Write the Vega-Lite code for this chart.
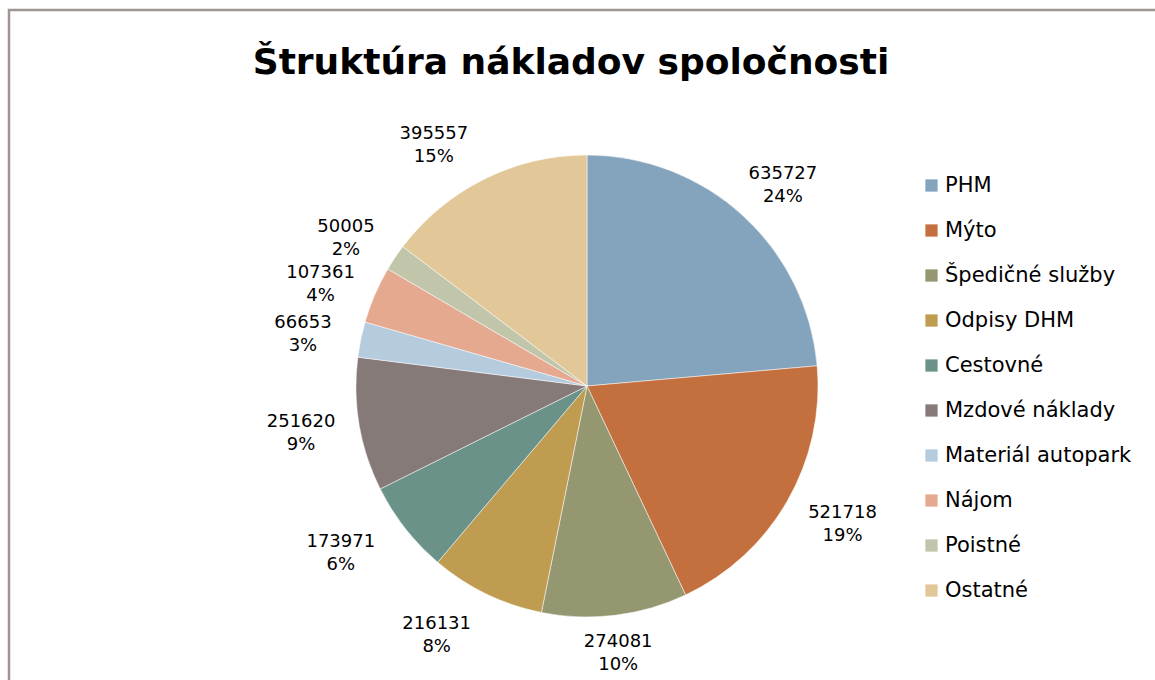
{
  "$schema": "https://vega.github.io/schema/vega-lite/v6.json",
  "autosize": {"type": "none"},
  "padding": {"left": 9, "top": 10, "right": 0, "bottom": 0},
  "width": 1156,
  "height": 752,
  "background": "white",
  "view": {"stroke": "#9e9491", "strokeWidth": 2.5, "fill": "white"},
  "config": {
    "view": {"stroke": "#9e9491", "strokeWidth": 2.5},
    "font": "DejaVu Sans",
    "text": {"fontSize": 18, "font": "DejaVu Sans", "color": "#000000", "align": "center", "baseline": "middle", "lineBreak": "\n", "lineHeight": 23}
  },
  "title": {
    "text": "Štruktúra nákladov spoločnosti",
    "font": "DejaVu Sans",
    "fontSize": 36,
    "fontWeight": "bold",
    "color": "#000000",
    "anchor": "middle",
    "offset": 0,
    "baseline": "alphabetic",
    "dx": -16,
    "dy": 100
  },
  "data": {
    "values": [
      {"kategoria": "PHM", "value": 635727, "pct": "24%"},
      {"kategoria": "Mýto", "value": 521718, "pct": "19%"},
      {"kategoria": "Špedičné služby", "value": 274081, "pct": "10%"},
      {"kategoria": "Odpisy DHM", "value": 216131, "pct": "8%"},
      {"kategoria": "Cestovné", "value": 173971, "pct": "6%"},
      {"kategoria": "Mzdové náklady", "value": 251620, "pct": "9%"},
      {"kategoria": "Materiál autopark", "value": 66653, "pct": "3%"},
      {"kategoria": "Nájom", "value": 107361, "pct": "4%"},
      {"kategoria": "Poistné", "value": 50005, "pct": "2%"},
      {"kategoria": "Ostatné", "value": 395557, "pct": "15%"}
    ]
  },
  "transform": [
    {"window": [{"op": "row_number", "as": "poradie"}]},
    {"calculate": "datum.value + '\\n' + datum.pct", "as": "stitok"},
    {"stack": "value", "groupby": [], "sort": [{"field": "poradie", "order": "ascending"}], "as": ["t0", "t1"]},
    {"calculate": "(datum.t0 + datum.t1) / 2", "as": "tmid"}
  ],
  "layer": [
    {
      "mark": {"type": "arc", "outerRadius": 231, "stroke": "white", "strokeWidth": 0.5},
      "encoding": {
        "theta": {"field": "t0", "type": "quantitative", "scale": {"domain": [0, 2692824]}},
        "theta2": {"field": "t1"},
        "color": {
          "field": "kategoria",
          "type": "nominal",
          "sort": null,
          "scale": {
            "domain": ["PHM", "Mýto", "Špedičné služby", "Odpisy DHM", "Cestovné", "Mzdové náklady", "Materiál autopark", "Nájom", "Poistné", "Ostatné"],
            "range": ["#84a4be", "#c4703e", "#94976f", "#bf9c50", "#6a9288", "#857a78", "#b5cbde", "#e5a990", "#c1c5aa", "#e2c798"]
          },
          "legend": {
            "title": null,
            "orient": "none",
            "legendX": 912,
            "legendY": 165,
            "symbolType": "square",
            "symbolSize": 150,
            "symbolStrokeWidth": 0,
            "labelFont": "DejaVu Sans",
            "labelFontSize": 21,
            "labelColor": "#000000",
            "labelOffset": 3,
            "rowPadding": 23,
            "labelLimit": 300
          }
        }
      }
    },
    {
      "transform": [{"filter": "indexof(['PHM','Nájom','Poistné'], datum.kategoria) >= 0"}],
      "mark": {"type": "text", "radius": 290, "dy": 2},
      "encoding": {"theta": {"field": "tmid", "type": "quantitative", "stack": null}, "text": {"field": "stitok", "type": "nominal"}}
    },
    {
      "transform": [{"filter": "datum.kategoria === 'Špedičné služby'"}],
      "mark": {"type": "text", "radius": 258},
      "encoding": {"theta": {"field": "tmid", "type": "quantitative", "stack": null}, "text": {"field": "stitok", "type": "nominal"}}
    },
    {
      "transform": [{"filter": "datum.kategoria === 'Mýto'"}],
      "mark": {"type": "text", "radius": 290, "dx": 4, "dy": -17},
      "encoding": {"theta": {"field": "tmid", "type": "quantitative", "stack": null}, "text": {"field": "stitok", "type": "nominal"}}
    },
    {
      "transform": [{"filter": "datum.kategoria === 'Odpisy DHM'"}],
      "mark": {"type": "text", "radius": 290, "dx": -24, "dy": -23},
      "encoding": {"theta": {"field": "tmid", "type": "quantitative", "stack": null}, "text": {"field": "stitok", "type": "nominal"}}
    },
    {
      "transform": [{"filter": "datum.kategoria === 'Cestovné'"}],
      "mark": {"type": "text", "radius": 290, "dx": -18, "dy": -23},
      "encoding": {"theta": {"field": "tmid", "type": "quantitative", "stack": null}, "text": {"field": "stitok", "type": "nominal"}}
    },
    {
      "transform": [{"filter": "datum.kategoria === 'Mzdové náklady'"}],
      "mark": {"type": "text", "radius": 290, "dy": -13},
      "encoding": {"theta": {"field": "tmid", "type": "quantitative", "stack": null}, "text": {"field": "stitok", "type": "nominal"}}
    },
    {
      "transform": [{"filter": "datum.kategoria === 'Materiál autopark'"}],
      "mark": {"type": "text", "radius": 290, "dy": -5},
      "encoding": {"theta": {"field": "tmid", "type": "quantitative", "stack": null}, "text": {"field": "stitok", "type": "nominal"}}
    },
    {
      "transform": [{"filter": "datum.kategoria === 'Ostatné'"}],
      "mark": {"type": "text", "radius": 290, "dx": -24, "dy": 8},
      "encoding": {"theta": {"field": "tmid", "type": "quantitative", "stack": null}, "text": {"field": "stitok", "type": "nominal"}}
    }
  ]
}
